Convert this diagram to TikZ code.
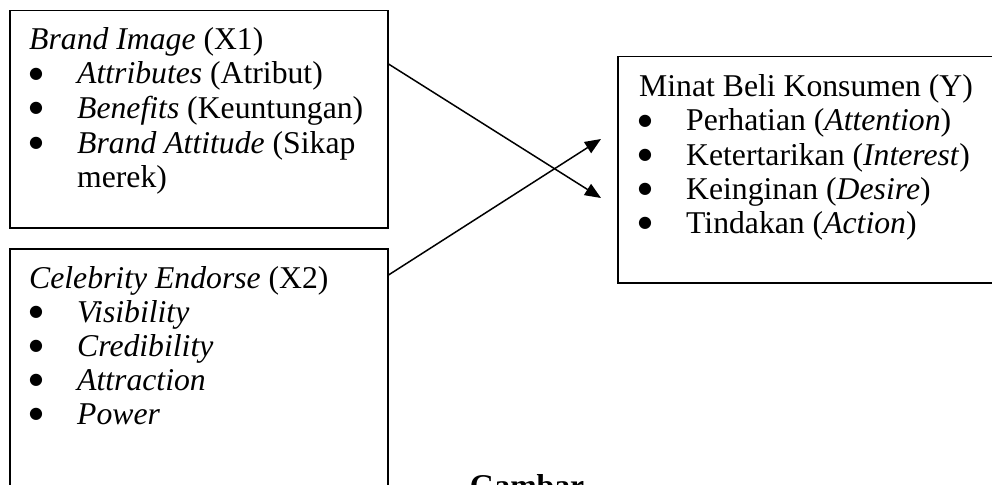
\documentclass[tikz,border=0pt]{standalone}
\usepackage{fontspec}
\setmainfont{Liberation Serif}
\newfontfamily\bulfont{DejaVu Sans}
\usetikzlibrary{arrows.meta}
\newcommand{\bigbul}{\raisebox{5.5pt}{\bulfont\fontsize{16}{16}\selectfont ●}}
\begin{document}
\begin{tikzpicture}[x=1pt,y=-1pt,
  font=\fontsize{31.7}{34}\selectfont,
  box/.style={draw, line width=1.5pt, inner sep=0pt, anchor=north west},
  ln/.style={inner sep=0pt, anchor=base west},
  bul/.style={inner sep=0pt, anchor=base},
  arr/.style={line width=1.5pt, -{Triangle[length=16pt,width=13pt]}}]
\useasboundingbox (0,0) rectangle (992,484);
\clip (0,0) rectangle (992,484);
% boxes
\node[box, minimum width=378pt, minimum height=217pt] (b1) at (9,10) {};
\node[box, minimum width=378pt, minimum height=272pt] (b2) at (9,248) {};
\node[box, minimum width=393pt, minimum height=226pt] (b3) at (617,56) {};
% box 1 text
\node[ln] (t11) at (29,50) {\textit{Brand Image} (X1)};
\node[bul] (p12) at (36,84) {\bigbul};
\node[ln] (t12) at (77,84) {\textit{Attributes} (Atribut)};
\node[bul] (p13) at (36,118) {\bigbul};
\node[ln] (t13) at (77,118) {\textit{Benefits} (Keuntungan)};
\node[bul] (p14) at (36,153) {\bigbul};
\node[ln] (t14) at (77,153) {\textit{Brand Attitude} (Sikap};
\node[ln] (t15) at (77,187) {merek)};
% box 2 text
\node[ln] (t21) at (29,288) {\textit{Celebrity Endorse} (X2)};
\node[bul] (p22) at (36,322) {\bigbul};
\node[ln] (t22) at (77,322) {\textit{Visibility}};
\node[bul] (p23) at (36,356) {\bigbul};
\node[ln] (t23) at (77,356) {\textit{Credibility}};
\node[bul] (p24) at (36,390) {\bigbul};
\node[ln] (t24) at (77,390) {\textit{Attraction}};
\node[bul] (p25) at (36,424) {\bigbul};
\node[ln] (t25) at (77,424) {\textit{Power}};
% box 3 text
\node[ln] (t31) at (639,97) {Minat Beli Konsumen (Y)};
\node[bul] (p32) at (645,131) {\bigbul};
\node[ln] (t32) at (686,131) {Perhatian (\textit{Attention})};
\node[bul] (p33) at (645,165) {\bigbul};
\node[ln] (t33) at (686,165) {Ketertarikan (\textit{Interest})};
\node[bul] (p34) at (645,199) {\bigbul};
\node[ln] (t34) at (686,199) {Keinginan (\textit{Desire})};
\node[bul] (p35) at (645,233) {\bigbul};
\node[ln] (t35) at (686,233) {Tindakan (\textit{Action})};
% caption (cut off at the lower edge, as in the source)
\node[inner sep=0pt, anchor=base] (cap) at (527,496) {\textbf{Gambar}};
% connectors
\coordinate (s1) at ([yshift=-54pt]b1.north east);
\coordinate (s2) at ([yshift=-27pt]b2.north east);
\coordinate (e1) at ([xshift=-16pt,yshift=-142pt]b3.north west);
\coordinate (e2) at ([xshift=-16pt,yshift=-83pt]b3.north west);
\draw[arr] (s1) -- (e1);
\draw[arr] (s2) -- (e2);
\end{tikzpicture}
\end{document}
